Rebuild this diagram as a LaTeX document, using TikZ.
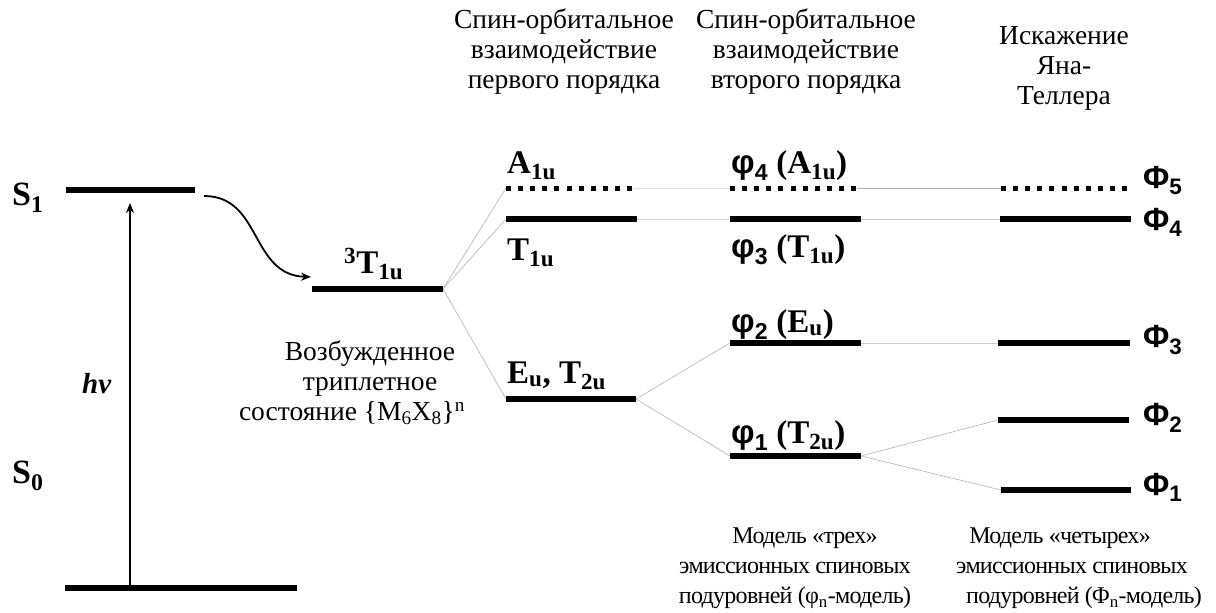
\documentclass[tikz,border=0pt]{standalone}
\usepackage{fontspec}
\setmainfont{Liberation Serif}
\newfontfamily\arialf{Liberation Sans}
\newfontfamily\condf{Liberation Serif}[LetterSpace=-3]
\usetikzlibrary{arrows.meta}

\tikzset{
  lvl/.style={line width=6pt},
  dlvl/.style={line width=5pt, dash pattern=on 5pt off 7.1pt},
  conn/.style={draw=black!30, line width=0.6pt},
  arr/.style={line width=1.8pt, -{Stealth[length=10pt,width=8pt]}},
  txt/.style={font=\fontsize{27.5}{30}\selectfont, align=center, inner sep=0pt},
  btxt/.style={font=\condf\fontsize{24}{30}\selectfont, align=center, inner sep=0pt},
  lab/.style={font=\fontsize{33}{35}\selectfont\bfseries, inner sep=0pt, anchor=base west},
  slab/.style={font=\fontsize{34}{36}\selectfont\bfseries, inner sep=0pt, anchor=base west},
  plab/.style={font=\fontsize{32}{34}\selectfont\arialf\bfseries, inner sep=0pt, anchor=base west},
}

\begin{document}
\begin{tikzpicture}[x=1pt,y=-1pt]
\useasboundingbox (0,0) rectangle (1216,613);

% level coordinates
\coordinate (S1L) at (66,190);   \coordinate (S1R) at (195,190);
\coordinate (S0L) at (65,588);   \coordinate (S0R) at (297,588);
\coordinate (T3L) at (312,289);  \coordinate (T3R) at (443,289);
\coordinate (A1L) at (506,188);  \coordinate (A1R) at (633,188);
\coordinate (T1L) at (506,219);  \coordinate (T1R) at (637,219);
\coordinate (EUL) at (506,399);  \coordinate (EUR) at (636,399);
\coordinate (p4L) at (730,188);  \coordinate (p4R) at (857,188);
\coordinate (p3L) at (730,219);  \coordinate (p3R) at (861,219);
\coordinate (p2L) at (730,343);  \coordinate (p2R) at (861,343);
\coordinate (p1L) at (730,456);  \coordinate (p1R) at (861,456);
\coordinate (F5L) at (1001,188); \coordinate (F5R) at (1128,188);
\coordinate (F4L) at (1000,219); \coordinate (F4R) at (1131,219);
\coordinate (F3L) at (998,343);  \coordinate (F3R) at (1130,343);
\coordinate (F2L) at (998,420);  \coordinate (F2R) at (1129,420);
\coordinate (F1L) at (1001,490); \coordinate (F1R) at (1131,490);

% thin connectors
\draw[conn] (T3R) -- (A1L);
\draw[conn] (T3R) -- (T1L);
\draw[conn] (T3R) -- (EUL);
\draw[conn, draw=black!12] (A1R) -- (p4L);
\draw[conn, draw=black!15] (T1R) -- (p3L);
\draw[conn] (EUR) -- (p2L);
\draw[conn] (EUR) -- (p1L);
\draw[conn] (p4R) -- (F5L);
\draw[conn, draw=black!20] (p3R) -- (F4L);
\draw[conn, draw=black!20] (p2R) -- (F3L);
\draw[conn] (p1R) -- (F2L);
\draw[conn] (p1R) -- (F1L);

% levels
\draw[lvl] (S1L) -- (S1R);
\draw[lvl] (S0L) -- (S0R);
\draw[lvl] (T3L) -- (T3R);
\draw[dlvl] (A1L) -- (A1R);
\draw[lvl] (T1L) -- (T1R);
\draw[lvl] (EUL) -- (EUR);
\draw[dlvl] (p4L) -- (p4R);
\draw[lvl] (p3L) -- (p3R);
\draw[lvl] (p2L) -- (p2R);
\draw[lvl] (p1L) -- (p1R);
\draw[dlvl] (F5L) -- (F5R);
\draw[lvl] (F4L) -- (F4R);
\draw[lvl] (F3L) -- (F3R);
\draw[lvl] (F2L) -- (F2R);
\draw[lvl] (F1L) -- (F1R);

% arrows
\coordinate (hvA) at (130,585);
\coordinate (hvB) at (130,203);
\draw[arr] (hvA) -- (hvB);
\coordinate (isA) at (204,196);
\coordinate (isB) at (311,277);
\draw[arr] (isA) .. controls (262,196) and (250,275) .. (isB);

% level labels
\node[slab] (lS1) at (12,205) {S\textsubscript{1}};
\node[slab] (lS0) at (12,483) {S\textsubscript{0}};
\node[font=\fontsize{29}{31}\selectfont\bfseries\itshape, inner sep=0pt, anchor=base west] (lhv) at (82,393) {hν};
\node[lab] (lT3) at (344,273) {\textsuperscript{3}T\textsubscript{1u}};
\node[lab] (lA1) at (507,173) {A\textsubscript{1u}};
\node[lab] (lT1) at (507,260) {T\textsubscript{1u}};
\node[lab] (lEU) at (507,383) {E\textsubscript{u}, T\textsubscript{2u}};
\node[lab] (lp4) at (731,173) {{\arialf φ\textsubscript{4}} (A\textsubscript{1u})};
\node[lab] (lp3) at (731,257) {{\arialf φ\textsubscript{3}} (T\textsubscript{1u})};
\node[lab] (lp2) at (731,332) {{\arialf φ\textsubscript{2}} (E\textsubscript{u})};
\node[lab] (lp1) at (731,443) {{\arialf φ\textsubscript{1}} (T\textsubscript{2u})};
\node[plab] (lF5) at (1143,188) {Φ\textsubscript{5}};
\node[plab] (lF4) at (1143,230) {Φ\textsubscript{4}};
\node[plab] (lF3) at (1143,347) {Φ\textsubscript{3}};
\node[plab] (lF2) at (1143,425) {Φ\textsubscript{2}};
\node[plab] (lF1) at (1143,495) {Φ\textsubscript{1}};

% descriptive texts
\node[txt] (h1) at (564,52) {Спин-орбитальное\\взаимодействие\\первого порядка};
\node[txt] (h2) at (806,52) {Спин-орбитальное\\взаимодействие\\второго порядка};
\node[txt] (h3) at (1064,68) {Искажение\\Яна-\\Теллера};
\node[txt] (exc) at (361,383) {\hspace*{18pt}Возбужденное\\\hspace*{18pt}триплетное\\состояние \{M\textsubscript{6}X\textsubscript{8}\}\textsuperscript{n}\hspace*{18pt}};
\node[btxt] (m3) at (795,568) {\hspace*{20pt}Модель «трех»\\эмиссионных спиновых\\подуровней (φ\textsubscript{n}-модель)};
\node[btxt] (m4) at (1072,568) {Модель «четырех»\hspace*{24pt}\\эмиссионных спиновых\\\hspace*{24pt}подуровней (Φ\textsubscript{n}-модель)};
\end{tikzpicture}
\end{document}
